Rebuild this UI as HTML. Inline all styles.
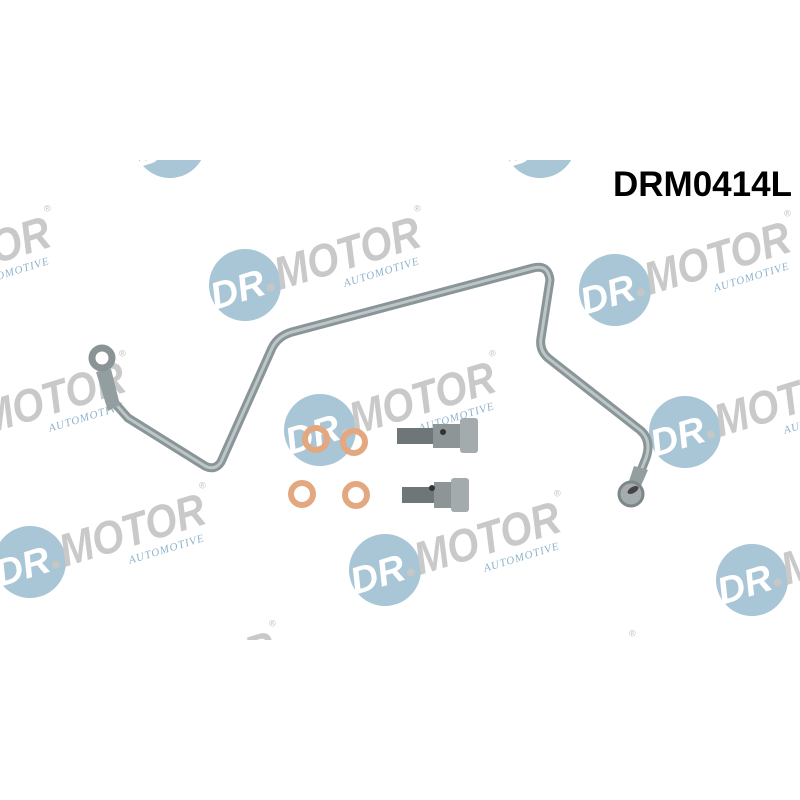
<!DOCTYPE html>
<html><head><style>html,body{margin:0;padding:0;background:#fff;width:800px;height:800px;overflow:hidden}</style></head>
<body>
<svg width="800" height="800" viewBox="0 0 800 800" xmlns="http://www.w3.org/2000/svg">
<defs>
<clipPath id="c"><rect x="0" y="160" width="800" height="480"/></clipPath>
<g id="wm">
<circle cx="0" cy="0" r="36" fill="#a9c6d6"/>
<text x="-36" y="15" font-family="Liberation Sans, sans-serif" font-weight="bold" font-style="italic" font-size="38" fill="#fff">DR</text>
<circle cx="24" cy="10" r="4" fill="#c6c6c6"/>
<text x="32" y="15" font-family="Liberation Sans, sans-serif" font-weight="bold" font-style="italic" font-size="46" fill="#c9c9c9" textLength="150" lengthAdjust="spacingAndGlyphs">MOTOR</text>
<text x="184" y="-20" font-family="Liberation Sans, sans-serif" font-size="9" fill="#bbb">®</text>
<text x="95" y="31" font-family="Liberation Serif, serif" font-style="italic" font-size="11" fill="#8fb3cc" letter-spacing="1">AUTOMOTIVE</text>
</g>
</defs>
<g clip-path="url(#c)">
<g transform="translate(170,142) rotate(-17)"><use href="#wm"/></g>
<g transform="translate(540,142) rotate(-17)"><use href="#wm"/></g>
<g transform="translate(-125,285) rotate(-17)"><use href="#wm"/></g>
<g transform="translate(245,285) rotate(-17)"><use href="#wm"/></g>
<g transform="translate(615,290) rotate(-17)"><use href="#wm"/></g>
<g transform="translate(-50,430) rotate(-17)"><use href="#wm"/></g>
<g transform="translate(320,430) rotate(-17)"><use href="#wm"/></g>
<g transform="translate(685,432) rotate(-17)"><use href="#wm"/></g>
<g transform="translate(30,562) rotate(-17)"><use href="#wm"/></g>
<g transform="translate(385,570) rotate(-17)"><use href="#wm"/></g>
<g transform="translate(752,580) rotate(-17)"><use href="#wm"/></g>
<g transform="translate(100,700) rotate(-17)"><use href="#wm"/></g>
<g transform="translate(460,710) rotate(-17)"><use href="#wm"/></g>
</g>
<text x="613" y="196" font-family="Liberation Sans, sans-serif" font-weight="bold" font-size="35" fill="#000">DRM0414L</text>
<!-- pipe -->
<path d="M112,400 L128,418 L205,466 Q215,471 221,462 L272,348 Q278,336 292,332 L533,268 Q548,264 550,280 L541,338 Q539,350 548,358 L640,430 Q652,440 646,458 L638,478" fill="none" stroke="#8a9597" stroke-width="9" stroke-linecap="round" stroke-linejoin="round"/>
<path d="M112,400 L128,418 L205,466 Q215,471 221,462 L272,348 Q278,336 292,332 L533,268 Q548,264 550,280 L541,338 Q539,350 548,358 L640,430 Q652,440 646,458 L638,478" fill="none" stroke="#bcc6c8" stroke-width="3" stroke-linecap="round" stroke-linejoin="round"/>
<!-- left fitting -->
<path d="M96,372 L111,369 L120,405 L108,411 Z" fill="#939ea0"/>
<circle cx="102" cy="358" r="10" fill="none" stroke="#8a9496" stroke-width="7"/>
<!-- right fitting -->
<path d="M634,466 L648,470 L640,488 L628,484 Z" fill="#939ea0"/>
<circle cx="631" cy="494" r="12" fill="#a4acae" stroke="#7d8789" stroke-width="3"/>
<ellipse cx="633" cy="490" rx="6" ry="3" fill="#444" transform="rotate(-30 633 490)"/>
<!-- washers -->
<g fill="none" stroke="#e3a880" stroke-width="6">
<circle cx="316" cy="439" r="11"/>
<circle cx="354" cy="442" r="11"/>
<circle cx="302" cy="494" r="11"/>
<circle cx="356" cy="495" r="11"/>
</g>
<!-- bolts -->
<rect x="397" y="428" width="38" height="16" fill="#6f7678"/>
<rect x="433" y="424" width="30" height="24" fill="#8d9597"/>
<circle cx="443" cy="432" r="3" fill="#333"/>
<rect x="460" y="418" width="18" height="35" rx="3" fill="#a3abad"/>
<rect x="402" y="487" width="34" height="16" fill="#6f7678"/>
<rect x="434" y="482" width="22" height="26" fill="#8d9597"/>
<circle cx="432" cy="488" r="3" fill="#333"/>
<rect x="451" y="478" width="18" height="34" rx="3" fill="#a3abad"/>
</svg>
</body></html>
